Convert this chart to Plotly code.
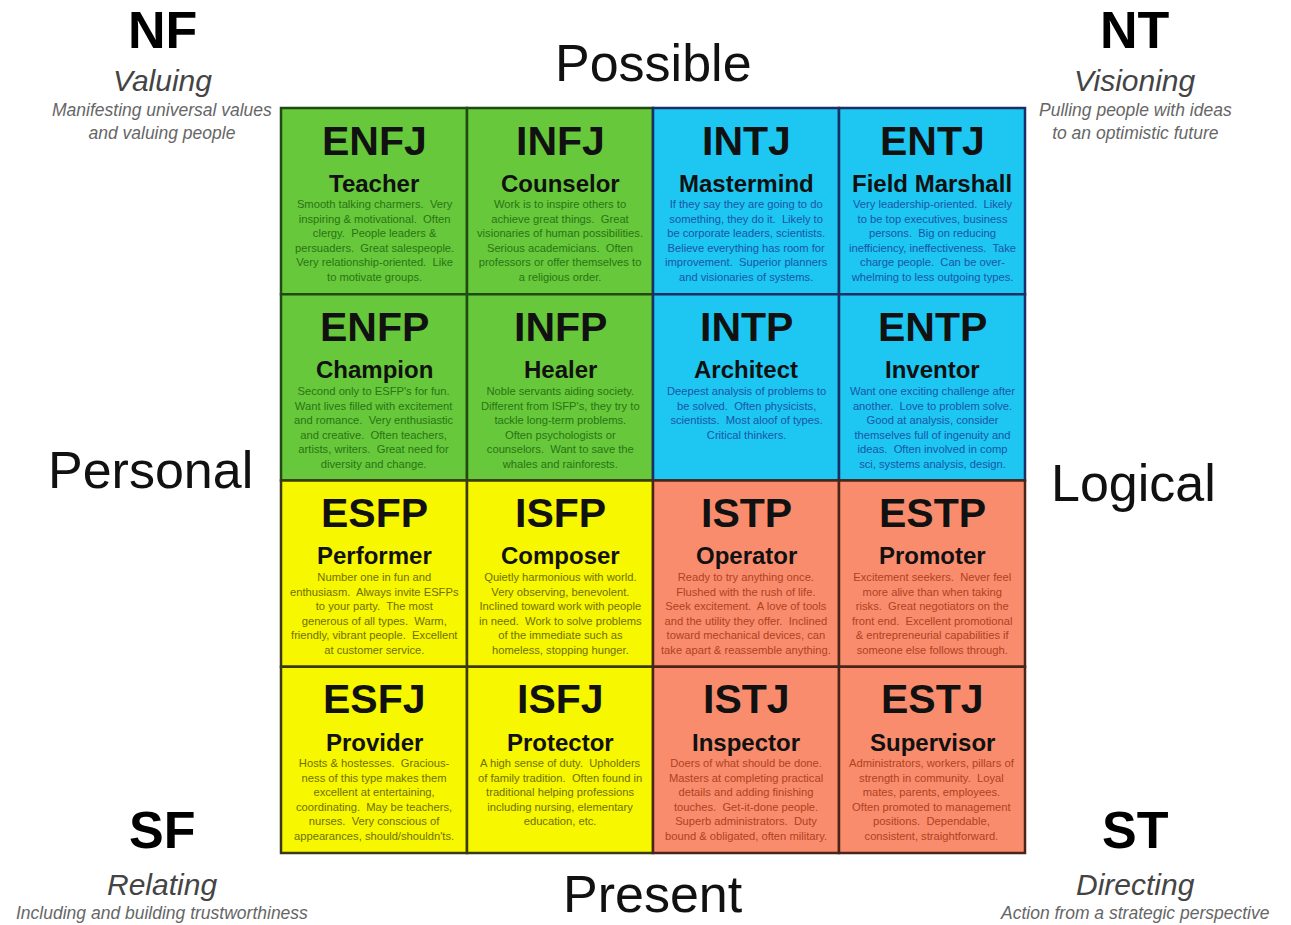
import plotly.graph_objects as go

# ---------------- data ----------------
codes = [["ENFJ", "INFJ", "INTJ", "ENTJ"],
         ["ENFP", "INFP", "INTP", "ENTP"],
         ["ESFP", "ISFP", "ISTP", "ESTP"],
         ["ESFJ", "ISFJ", "ISTJ", "ESTJ"]]
names = [["Teacher", "Counselor", "Mastermind", "Field Marshall"],
         ["Champion", "Healer", "Architect", "Inventor"],
         ["Performer", "Composer", "Operator", "Promoter"],
         ["Provider", "Protector", "Inspector", "Supervisor"]]
groups = [["NF", "NF", "NT", "NT"],
          ["NF", "NF", "NT", "NT"],
          ["SF", "SF", "ST", "ST"],
          ["SF", "SF", "ST", "ST"]]
descriptions = [
    ["Smooth talking charmers.  Very<br>inspiring & motivational.  Often<br>clergy.  People leaders &<br>persuaders.  Great salespeople.<br>Very relationship-oriented.  Like<br>to motivate groups.",
     "Work is to inspire others to<br>achieve great things.  Great<br>visionaries of human possibilities.<br>Serious academicians.  Often<br>professors or offer themselves to<br>a religious order.",
     "If they say they are going to do<br>something, they do it.  Likely to<br>be corporate leaders, scientists.<br>Believe everything has room for<br>improvement.  Superior planners<br>and visionaries of systems.",
     "Very leadership-oriented.  Likely<br>to be top executives, business<br>persons.  Big on reducing<br>inefficiency, ineffectiveness.  Take<br>charge people.  Can be over-<br>whelming to less outgoing types."],
    ["Second only to ESFP's for fun.<br>Want lives filled with excitement<br>and romance.  Very enthusiastic<br>and creative.  Often teachers,<br>artists, writers.  Great need for<br>diversity and change.",
     "Noble servants aiding society.<br>Different from ISFP's, they try to<br>tackle long-term problems.<br>Often psychologists or<br>counselors.  Want to save the<br>whales and rainforests.",
     "Deepest analysis of problems to<br>be solved.  Often physicists,<br>scientists.  Most aloof of types.<br>Critical thinkers.",
     "Want one exciting challenge after<br>another.  Love to problem solve.<br>Good at analysis, consider<br>themselves full of ingenuity and<br>ideas.  Often involved in comp<br>sci, systems analysis, design."],
    ["Number one in fun and<br>enthusiasm.  Always invite ESFPs<br>to your party.  The most<br>generous of all types.  Warm,<br>friendly, vibrant people.  Excellent<br>at customer service.",
     "Quietly harmonious with world.<br>Very observing, benevolent.<br>Inclined toward work with people<br>in need.  Work to solve problems<br>of the immediate such as<br>homeless, stopping hunger.",
     "Ready to try anything once.<br>Flushed with the rush of life.<br>Seek excitement.  A love of tools<br>and the utility they offer.  Inclined<br>toward mechanical devices, can<br>take apart & reassemble anything.",
     "Excitement seekers.  Never feel<br>more alive than when taking<br>risks.  Great negotiators on the<br>front end.  Excellent promotional<br>& entrepreneurial capabilities if<br>someone else follows through."],
    ["Hosts & hostesses.  Gracious-<br>ness of this type makes them<br>excellent at entertaining,<br>coordinating.  May be teachers,<br>nurses.  Very conscious of<br>appearances, should/shouldn'ts.",
     "A high sense of duty.  Upholders<br>of family tradition.  Often found in<br>traditional helping professions<br>including nursing, elementary<br>education, etc.",
     "Doers of what should be done.<br>Masters at completing practical<br>details and adding finishing<br>touches.  Get-it-done people.<br>Superb administrators.  Duty<br>bound & obligated, often military.",
     "Administrators, workers, pillars of<br>strength in community.  Loyal<br>mates, parents, employees.<br>Often promoted to management<br>positions.  Dependable,<br>consistent, straightforward."],
]

corner_codes = ["NF", "NT", "SF", "ST"]
corner_titles = ["Valuing", "Visioning", "Relating", "Directing"]
corner_subtitles = ["Manifesting universal values<br>and valuing people",
                    "Pulling people with ideas<br>to an optimistic future",
                    "Including and building trustworthiness",
                    "Action from a strategic perspective"]
axis_labels = ["Possible", "Present", "Personal", "Logical"]

# ---------------- styles ----------------
fill = {"NF": "#67C83B", "NT": "#1DC7F1", "SF": "#F7F700", "ST": "#F98C6D"}
edge = {"NF": "#1F4A12", "NT": "#1B2F66", "SF": "#3A3A10", "ST": "#4A2418"}
desc_color = {"NF": "#2A7414", "NT": "#1A55A8", "SF": "#707000", "ST": "#B0421E"}
FONT = "Liberation Sans, Arial, Helvetica, sans-serif"

W, H = 1291, 925
GX0, GX1, GY0, GY1 = 281, 1025, 108, 853
ux = (GX1 - GX0) / 4
uy = (GY1 - GY0) / 4

fig = go.Figure()
shapes = []
annotations = []

for r in range(4):
    for c in range(4):
        g = groups[r][c]
        shapes.append(dict(type="rect", xref="x", yref="y", x0=c, x1=c + 1, y0=r, y1=r + 1,
                           fillcolor=fill[g], line=dict(color=edge[g], width=2.5), layer="below"))
        annotations.append(dict(x=c + 0.5, y=r + 0.175, xref="x", yref="y", text=f"<b>{codes[r][c]}</b>",
                                showarrow=False, font=dict(family=FONT, size=41, color="#111111")))
        annotations.append(dict(x=c + 0.5, y=r + 0.405, xref="x", yref="y", text=f"<b>{names[r][c]}</b>",
                                showarrow=False, font=dict(family=FONT, size=24, color="#111111")))
        annotations.append(dict(x=c + 0.5, y=r + 0.475, xref="x", yref="y", text=descriptions[r][c],
                                yanchor="top", showarrow=False, align="center",
                                font=dict(family=FONT, size=11.2, color=desc_color[g])))

# invisible trace so the axes are laid out
fig.add_trace(go.Scatter(x=[c + 0.5 for c in range(4)], y=[r + 0.5 for r in range(4)],
                         mode="markers", marker=dict(opacity=0), hoverinfo="skip", showlegend=False))

# corner labels (paper coords)
corner_pos = [(162, 30, 80, 121), (1135, 30, 80, 121), (162, 830, 884, 913), (1135, 830, 884, 913)]
for i, (cx, yc, yt, ys) in enumerate(corner_pos):
    annotations.append(dict(x=cx / W, y=1 - yc / H, xref="paper", yref="paper",
                            xanchor="center", yanchor="middle",
                            text=f"<b>{corner_codes[i]}</b>", showarrow=False,
                            font=dict(family=FONT, size=52, color="#000000")))
    annotations.append(dict(x=cx / W, y=1 - yt / H, xref="paper", yref="paper",
                            xanchor="center", yanchor="middle",
                            text=f"<i>{corner_titles[i]}</i>", showarrow=False,
                            font=dict(family=FONT, size=30, color="#444444")))
    annotations.append(dict(x=cx / W, y=1 - ys / H, xref="paper", yref="paper",
                            xanchor="center", yanchor="middle",
                            text=f"<i>{corner_subtitles[i]}</i>", showarrow=False,
                            font=dict(family=FONT, size=17.5, color="#666666")))

# axis-side labels: (x px, y paper, yanchor)
axis_pos = [(653, 1 - 63 / H, "middle"), (653, 0.0, "bottom"),
            (150, 1 - 470 / H, "middle"), (1133, 1 - 483 / H, "middle")]
for lab, (ax_, ay_, yanc) in zip(axis_labels, axis_pos):
    annotations.append(dict(x=ax_ / W, y=ay_, xref="paper", yref="paper", text=lab,
                            xanchor="center", yanchor=yanc,
                            showarrow=False, font=dict(family=FONT, size=52, color="#111111")))

fig.update_layout(
    width=W, height=H, margin=dict(l=0, r=0, t=0, b=0),
    paper_bgcolor="white", plot_bgcolor="white",
    xaxis=dict(range=[-GX0 / ux, (W - GX0) / ux], visible=False, fixedrange=True),
    yaxis=dict(range=[(H - GY0) / uy, -GY0 / uy], visible=False, fixedrange=True),
    shapes=shapes, annotations=annotations, showlegend=False,
)

fig.write_html("out.html", config={"displayModeBar": False},
               post_script="document.body.style.margin='0';document.body.style.overflow='hidden';")
